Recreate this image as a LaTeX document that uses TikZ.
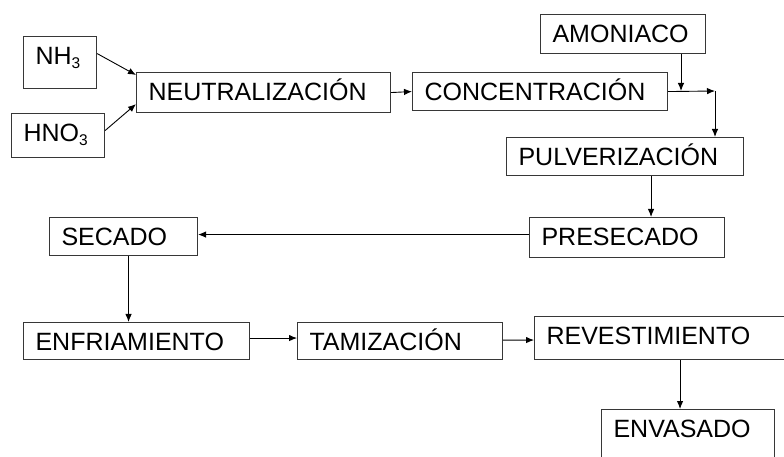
\documentclass[tikz,border=0pt]{standalone}
\usepackage{fontspec}
\setmainfont{Liberation Sans}
\usetikzlibrary{arrows.meta,positioning,calc}
\definecolor{bc}{RGB}{55,55,55}
\newcommand{\subn}[1]{\raisebox{-4bp}{\fontsize{15.5bp}{16bp}\selectfont#1}}
\tikzset{box/.style={draw=bc,line width=1.1bp,anchor=north west,inner xsep=12bp,inner ysep=0pt,align=left,text height=28bp},
 arr/.style={-{Latex[length=8bp,width=6.5bp]},line width=.9bp},
 every node/.style={font=\fontsize{25bp}{28bp}\selectfont}}

\begin{document}
\begin{tikzpicture}[x=1bp,y=-1bp]
\useasboundingbox (0,0) rectangle (784,457);
\clip (0,0) rectangle (784,457);
\node[box,text width=49bp,text depth=24bp] (nh) at (23,36) {NH\subn{3}};
\node[box,text width=69bp,text depth=16bp] (hno) at (11,113) {HNO\subn{3}};
\node[box,text width=230bp,text depth=12bp] (neu) at (136,72) {NEUTRALIZACIÓN};
\node[box,text width=231bp,text depth=10bp] (con) at (412,72) {CONCENTRACIÓN};
\node[box,text width=141bp,text depth=11bp] (amo) at (540,14) {AMONIACO};
\node[box,text width=213bp,text depth=10bp] (pul) at (506,137) {PULVERIZACIÓN};
\node[box,text width=171bp,text depth=12bp] (pre) at (529,217) {PRESECADO};
\node[box,text width=124bp,text depth=10bp] (sec) at (49,217) {SECADO};
\node[box,text width=202bp,text depth=9bp] (enf) at (23,322) {ENFRIAMIENTO};
\node[box,text width=181bp,text depth=9bp] (tam) at (297,322) {TAMIZACIÓN};
\node[box,text width=236bp,text depth=15bp] (rev) at (534,316) {REVESTIMIENTO};
\node[box,text width=149bp,text depth=42bp] (env) at (601,409) {ENVASADO};
% joints on the lines
\coordinate (jn) at (715,91);
\coordinate (am) at (681,91);
\coordinate (pp) at ([xshift=26bp]pul.south);
\coordinate (sd) at ([xshift=5bp]sec.south);
\coordinate (ev) at ([xshift=-8bp]env.north);
\draw[arr] ([yshift=9bp]nh.east)--([yshift=-3bp]neu.north west);
\draw[arr] ([yshift=5bp]hno.east)--([yshift=9bp]neu.south west);
\draw[arr] (neu.east)--(con.west);
\draw[arr] (con.east)--(jn);
\draw[arr] (amo.south -| am)--(am);
\draw[arr] (jn)--(jn |- pul.north);
\draw[arr] (pp)--(pp |- pre.north);
\draw[arr] ([yshift=3bp]pre.west)--([yshift=3bp]pre.west -| sec.east);
\draw[arr] (sd)--(sd |- enf.north);
\draw[arr] ([yshift=3bp]enf.east)--([yshift=3bp]tam.west);
\draw[arr] ([yshift=1bp]tam.east)--([yshift=-2bp]rev.west);
\draw[arr] (ev |- rev.south)--(ev);
\end{tikzpicture}
\end{document}
